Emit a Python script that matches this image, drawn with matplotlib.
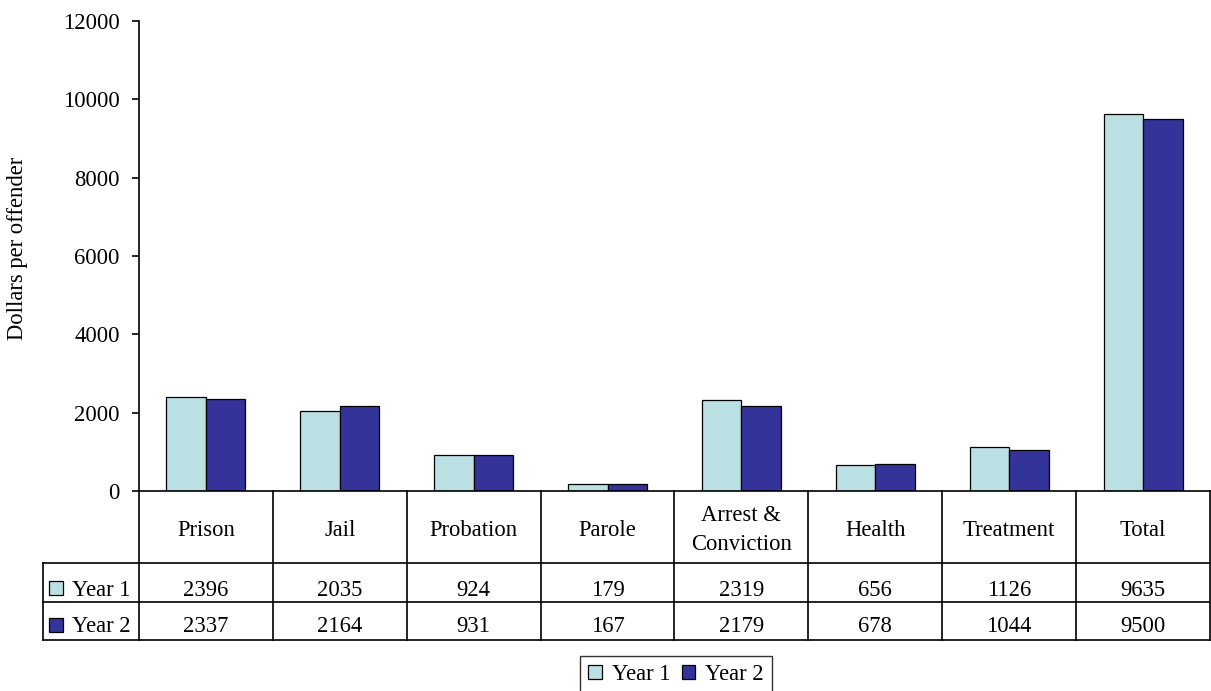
import matplotlib
matplotlib.use('Agg')
import matplotlib.pyplot as plt
from matplotlib.patches import Patch, Rectangle
import numpy as np

plt.rcParams['font.family'] = ['Liberation Serif', 'DejaVu Serif']

######################## data ########################
categories = ['Prison', 'Jail', 'Probation', 'Parole', 'Arrest &\nConviction',
              'Health', 'Treatment', 'Total']
year1 = [2396, 2035, 924, 179, 2319, 656, 1126, 9635]
year2 = [2337, 2164, 931, 167, 2179, 678, 1044, 9500]
series_names = ['Year 1', 'Year 2']
colors = ['#BBE0E3', '#333399']
yticks = [0, 2000, 4000, 6000, 8000, 10000, 12000]

######################## layout (pixels) ########################
W, H = 1211, 691
ax_left, ax_right, ax_top, ax_bottom = 139, 1210, 21, 491
tab_left, tab_bottom = 43, 640
row_h = 38.5
fs = 16.3

fig = plt.figure(figsize=(W / 100, H / 100), dpi=100)
ax = fig.add_axes([ax_left / W, 1 - ax_bottom / H,
                   (ax_right - ax_left) / W, (ax_bottom - ax_top) / H])

n = len(categories)
x = np.arange(n)
bw = 0.295
ax.bar(x - bw / 2, year1, bw, color=colors[0], edgecolor='black', linewidth=0.9)
ax.bar(x + bw / 2, year2, bw, color=colors[1], edgecolor='black', linewidth=0.9)
ax.set_xlim(-0.5, n - 0.5)
ax.set_ylim(0, 12000)
ax.set_yticks(yticks)
ax.set_yticklabels([str(v) for v in yticks], fontsize=fs)
ax.set_xticks([])
ax.tick_params(axis='y', direction='out', length=5, width=1.2, pad=9)
for s in ['top', 'right']:
    ax.spines[s].set_visible(False)
ax.spines['left'].set_linewidth(1.2)
ax.spines['bottom'].set_linewidth(1.2)
fig.text(18 / W, 1 - 248 / H, 'Dollars per offender', rotation=90,
         ha='center', va='center', fontsize=fs)

######################## data table ########################
cell_px = (ax_right - ax_left) / n
tab = fig.add_axes([tab_left / W, 1 - tab_bottom / H,
                    (ax_right - tab_left) / W, (tab_bottom - ax_bottom) / H])
x0 = -0.5 - (ax_left - tab_left) / cell_px
tab.set_xlim(x0, n - 0.5)
top = tab_bottom - ax_bottom
tab.set_ylim(0, top)
tab.axis('off')
lk = dict(color='black', lw=1.2, clip_on=False)
# horizontal lines
tab.plot([x0, n - 0.5], [0, 0], **lk)
tab.plot([x0, n - 0.5], [row_h, row_h], **lk)
tab.plot([x0, n - 0.5], [2 * row_h, 2 * row_h], **lk)
# vertical lines
tab.plot([x0, x0], [0, 2 * row_h], **lk)
for b in np.arange(n + 1) - 0.5:
    tab.plot([b, b], [0, top], **lk)

hdr_y = top - 39
for i, c in enumerate(categories):
    tab.text(i, hdr_y, c, ha='center', va='center', fontsize=fs, linespacing=1.5)
    tab.text(i, tab_bottom - 590, str(year1[i]), ha='center', va='center', fontsize=fs)
    tab.text(i, tab_bottom - 627, str(year2[i]), ha='center', va='center', fontsize=fs)

sq = 14 / cell_px
for k, (name, col) in enumerate(zip(series_names, colors)):
    yc = tab_bottom - (588 + 37 * k)
    tab.add_patch(Rectangle((x0 + 6 / cell_px, yc - 7), sq, 14, facecolor=col,
                            edgecolor='black', lw=0.9, clip_on=False))
    tab.text(x0 + 29 / cell_px, tab_bottom - (590 + 37 * k), name,
             ha='left', va='center', fontsize=fs)

######################## legend ########################
handles = [Patch(facecolor=c, edgecolor='black', linewidth=0.9) for c in colors]
leg = fig.legend(handles, series_names, loc='upper left', ncol=2,
                 bbox_to_anchor=(580 / W, 1 - 656 / H), fontsize=fs,
                 frameon=True, fancybox=False, edgecolor='black',
                 borderaxespad=0, handlelength=0.6, handleheight=0.6,
                 handletextpad=0.45, columnspacing=0.5, borderpad=0.35)
leg.get_frame().set_linewidth(1.0)

fig.savefig('out.png', dpi=100)
